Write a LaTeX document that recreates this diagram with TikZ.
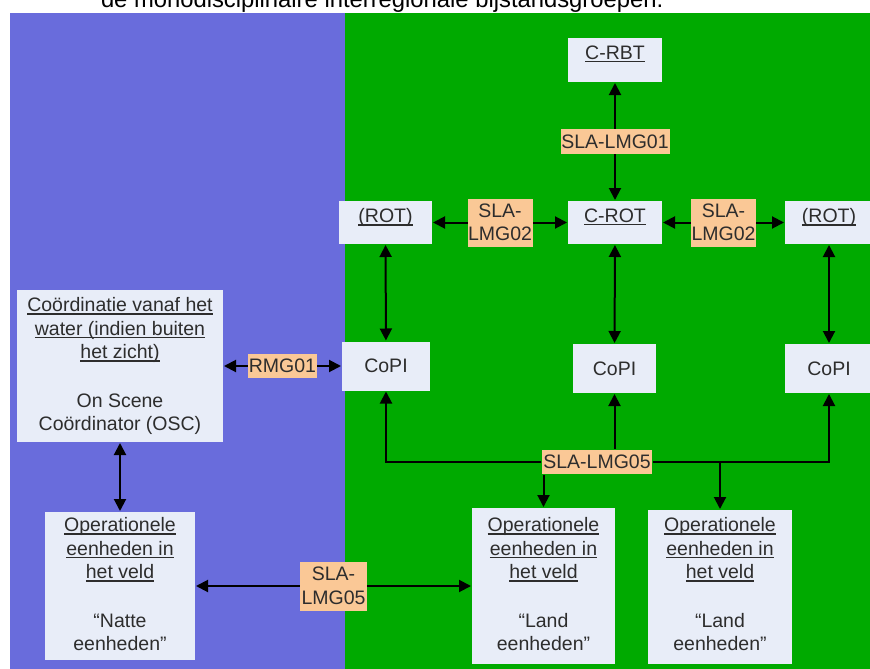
\documentclass[tikz,border=0pt]{standalone}
\usepackage{fontspec}
\setmainfont{Liberation Sans}
\usetikzlibrary{arrows.meta,positioning}

\definecolor{waterblauw}{RGB}{105,108,220}
\definecolor{landgroen}{RGB}{0,170,0}
\definecolor{vakvulling}{RGB}{232,237,248}
\definecolor{slavulling}{RGB}{250,200,150}
\definecolor{tekstgrijs}{RGB}{45,45,45}

\newcommand{\vakfont}{\fontsize{19.5}{23.5}\selectfont}
\newsavebox{\ulbox}
\newcommand{\ulin}[1]{\sbox\ulbox{#1}\rlap{\rule[-3pt]{\wd\ulbox}{1.3pt}}\usebox\ulbox}

\begin{document}
\begin{tikzpicture}[x=1pt, y=-1pt, line width=2pt,
	pijl/.style={{Triangle[length=12pt,width=12pt]}-{Triangle[length=12pt,width=12pt]}},
	enkel/.style={-{Triangle[length=12pt,width=12pt]}},
	vak/.style={fill=vakvulling, inner sep=0pt, text=tekstgrijs, font=\vakfont},
	vaktekst/.style={inner sep=0pt, align=center, text=tekstgrijs, font=\vakfont},
	sla/.style={fill=slavulling, inner sep=0.5pt, align=center, text=tekstgrijs, font=\vakfont}]
	\useasboundingbox (0,0) rectangle (870,669);
	
	% ==== achtergrond: water (links) en land (rechts) ====
	\fill[waterblauw] (10,13) rectangle (345,669);
	\fill[landgroen] (345,13) rectangle (870,669);
	\node[anchor=base west, inner sep=0pt, font=\fontsize{23.8}{28}\selectfont] (titel) at (100,7.5)
		{de monodisciplinaire interregionale bijstandsgroepen.};
	
	% ==== bovenste laag ====
	\node[vak, minimum width=94pt, minimum height=44pt] (crbt) at (615,60) {};
	\node[vak, minimum width=94pt, minimum height=43pt] (crot) at (615,222.5) {};
	\node[vak, minimum width=93pt, minimum height=43pt] (rotl) at (385.5,222.5) {};
	\node[vak, minimum width=88pt, minimum height=43pt] (rotr) at (829,222.5) {};
	\node[vaktekst, below=7.5pt of crbt.north] (crbt-t) {\ulin{C-RBT}};
	\node[vaktekst, below=7.5pt of crot.north] (crot-t) {\ulin{C-ROT}};
	\node[vaktekst, below=7.5pt of rotl.north] (rotl-t) {\ulin{(ROT)}};
	\node[vaktekst, below=7.5pt of rotr.north] (rotr-t) {\ulin{(ROT)}};
	
	% ==== CoPI's ====
	\node[vak, minimum width=88pt, minimum height=49pt] (copi1) at (386,366) {CoPI};
	\node[vak, minimum width=83pt, minimum height=49pt] (copi2) at (614.5,368.5) {CoPI};
	\node[vak, minimum width=88pt, minimum height=49pt] (copi3) at (829,368.5) {CoPI};
	
	% ==== water: OSC en natte eenheden ====
	\node[vak, minimum width=206pt, minimum height=152pt] (osc) at (120,366) {};
	\node[vaktekst, below=7.5pt of osc.north] (osc-t)
		{\ulin{Coördinatie vanaf het}\\ \ulin{water (indien buiten}\\ \ulin{het zicht)}\\[25pt]
		 On Scene\\ Coördinator (OSC)};
	\node[vak, minimum width=150pt, minimum height=148pt] (natte) at (120,586) {};
	\node[vaktekst, below=5.5pt of natte.north] (natte-t)
		{\ulin{Operationele}\\ \ulin{eenheden in}\\ \ulin{het veld}\\[25pt] “Natte\\ eenheden”};
	
	% ==== land: landeenheden ====
	\node[vak, minimum width=143pt, minimum height=156pt] (land1) at (543.5,586) {};
	\node[vaktekst, below=9.5pt of land1.north] (land1-t)
		{\ulin{Operationele}\\ \ulin{eenheden in}\\ \ulin{het veld}\\[25pt] “Land\\ eenheden”};
	\node[vak, minimum width=144pt, minimum height=154pt] (land2) at (720,587) {};
	\node[vaktekst, below=7.5pt of land2.north] (land2-t)
		{\ulin{Operationele}\\ \ulin{eenheden in}\\ \ulin{het veld}\\[25pt] “Land\\ eenheden”};
	
	% ==== verbindingen ====
	\draw[pijl] (crbt) -- node[sla, minimum width=109pt, minimum height=25pt] (sla1) {SLA-LMG01} (crot);
	\draw[pijl] (rotl) -- node[sla, minimum width=65pt, minimum height=48pt] (sla2l) {SLA-\\LMG02} (crot);
	\draw[pijl] (crot) -- node[sla, minimum width=65pt, minimum height=48pt] (sla2r) {SLA-\\LMG02} (rotr);
	\draw[pijl] (rotl) -- (copi1);
	\draw[pijl] (crot) -- (copi2);
	\draw[pijl] (rotr) -- (copi3);
	\draw[pijl] (osc) -- node[sla, minimum width=69pt, minimum height=24pt] (rmg) {RMG01} (copi1);
	\draw[pijl] (osc) -- (natte);
	\draw[pijl] (natte) -- node[sla, minimum width=67pt, minimum height=49pt] (sla5n) {SLA-\\LMG05} (land1);
	
	% SLA-LMG05 verdeellijn
	\node[sla, minimum width=110pt, minimum height=24pt] (sla5) at (597,462) {SLA-LMG05};
	\draw[enkel] (sla5.west) -| (copi1);
	\draw[enkel] (sla5.east) -| (copi3);
	\draw[enkel] (sla5.north -| copi2) -- (copi2);
	\draw[enkel] (sla5.south -| land1) -- (land1);
	\draw[enkel] (sla5.east -| land2) -- (land2);
\end{tikzpicture}
\end{document}
